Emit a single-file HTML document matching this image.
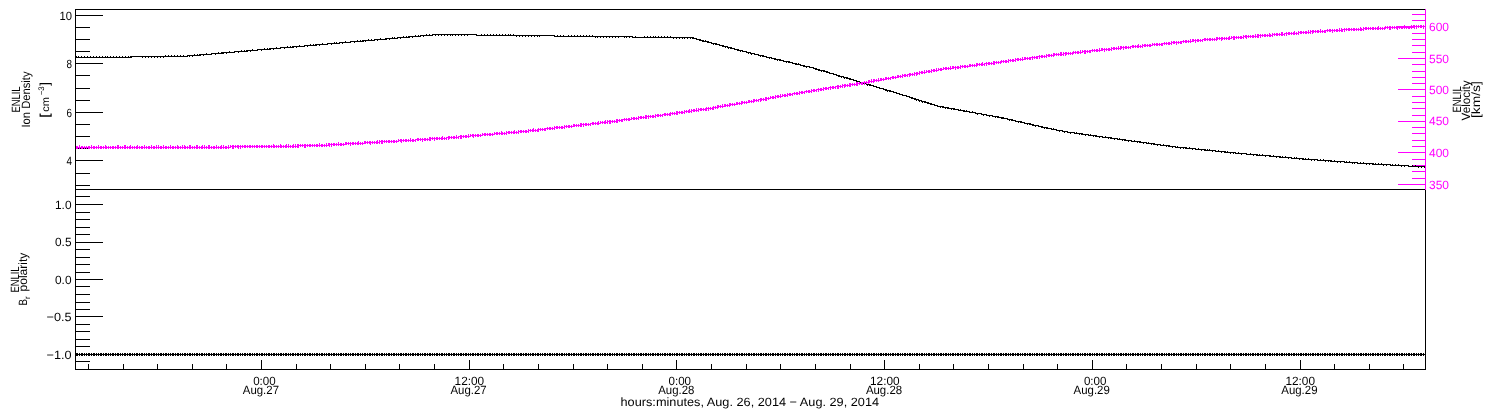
<!DOCTYPE html>
<html lang="en">
<head>
<meta charset="utf-8">
<title>ENLIL time series</title>
<style>
html,body{margin:0;padding:0;background:#fff;}
body{width:1500px;height:410px;overflow:hidden;}
svg{display:block;}
#labels{opacity:0.999;}
</style>
</head>
<body>
<svg width="1500" height="410" viewBox="0 0 1500 410" shape-rendering="crispEdges">
<rect x="0" y="0" width="1500" height="410" fill="#fff"/>
<g id="frame">
<rect x="75" y="9" width="1351" height="1" fill="#000"/>
<rect x="75" y="189" width="1351" height="1" fill="#000"/>
<rect x="75" y="369" width="1351" height="1" fill="#000"/>
<rect x="75" y="9" width="1" height="361" fill="#000"/>
<rect x="1425" y="189" width="1" height="181" fill="#000"/>
<rect x="1425" y="9" width="1" height="181" fill="#ff00ff"/>
</g>
<g id="ticks-density">
<rect x="75" y="15" width="28" height="1" fill="#000"/>
<rect x="75" y="27" width="15" height="1" fill="#000"/>
<rect x="75" y="39" width="15" height="1" fill="#000"/>
<rect x="75" y="51" width="15" height="1" fill="#000"/>
<rect x="75" y="63" width="28" height="1" fill="#000"/>
<rect x="75" y="75" width="15" height="1" fill="#000"/>
<rect x="75" y="88" width="15" height="1" fill="#000"/>
<rect x="75" y="100" width="15" height="1" fill="#000"/>
<rect x="75" y="112" width="28" height="1" fill="#000"/>
<rect x="75" y="124" width="15" height="1" fill="#000"/>
<rect x="75" y="136" width="15" height="1" fill="#000"/>
<rect x="75" y="148" width="15" height="1" fill="#000"/>
<rect x="75" y="160" width="28" height="1" fill="#000"/>
<rect x="75" y="173" width="15" height="1" fill="#000"/>
<rect x="75" y="185" width="15" height="1" fill="#000"/>
</g>
<g id="ticks-polarity">
<rect x="75" y="196" width="15" height="1" fill="#000"/>
<rect x="75" y="204" width="28" height="1" fill="#000"/>
<rect x="75" y="212" width="15" height="1" fill="#000"/>
<rect x="75" y="219" width="15" height="1" fill="#000"/>
<rect x="75" y="227" width="15" height="1" fill="#000"/>
<rect x="75" y="234" width="15" height="1" fill="#000"/>
<rect x="75" y="242" width="28" height="1" fill="#000"/>
<rect x="75" y="249" width="15" height="1" fill="#000"/>
<rect x="75" y="257" width="15" height="1" fill="#000"/>
<rect x="75" y="264" width="15" height="1" fill="#000"/>
<rect x="75" y="272" width="15" height="1" fill="#000"/>
<rect x="75" y="279" width="28" height="1" fill="#000"/>
<rect x="75" y="286" width="15" height="1" fill="#000"/>
<rect x="75" y="294" width="15" height="1" fill="#000"/>
<rect x="75" y="302" width="15" height="1" fill="#000"/>
<rect x="75" y="309" width="15" height="1" fill="#000"/>
<rect x="75" y="316" width="28" height="1" fill="#000"/>
<rect x="75" y="324" width="15" height="1" fill="#000"/>
<rect x="75" y="331" width="15" height="1" fill="#000"/>
<rect x="75" y="339" width="15" height="1" fill="#000"/>
<rect x="75" y="346" width="15" height="1" fill="#000"/>
<rect x="75" y="354" width="28" height="1" fill="#000"/>
<rect x="75" y="361" width="15" height="1" fill="#000"/>
</g>
<g id="ticks-velocity">
<rect x="1412" y="14" width="14" height="1" fill="#ff00ff"/>
<rect x="1412" y="20" width="14" height="1" fill="#ff00ff"/>
<rect x="1398" y="26" width="28" height="1" fill="#ff00ff"/>
<rect x="1412" y="33" width="14" height="1" fill="#ff00ff"/>
<rect x="1412" y="39" width="14" height="1" fill="#ff00ff"/>
<rect x="1412" y="45" width="14" height="1" fill="#ff00ff"/>
<rect x="1412" y="52" width="14" height="1" fill="#ff00ff"/>
<rect x="1398" y="58" width="28" height="1" fill="#ff00ff"/>
<rect x="1412" y="64" width="14" height="1" fill="#ff00ff"/>
<rect x="1412" y="71" width="14" height="1" fill="#ff00ff"/>
<rect x="1412" y="77" width="14" height="1" fill="#ff00ff"/>
<rect x="1412" y="83" width="14" height="1" fill="#ff00ff"/>
<rect x="1398" y="89" width="28" height="1" fill="#ff00ff"/>
<rect x="1412" y="96" width="14" height="1" fill="#ff00ff"/>
<rect x="1412" y="102" width="14" height="1" fill="#ff00ff"/>
<rect x="1412" y="108" width="14" height="1" fill="#ff00ff"/>
<rect x="1412" y="115" width="14" height="1" fill="#ff00ff"/>
<rect x="1398" y="121" width="28" height="1" fill="#ff00ff"/>
<rect x="1412" y="127" width="14" height="1" fill="#ff00ff"/>
<rect x="1412" y="133" width="14" height="1" fill="#ff00ff"/>
<rect x="1412" y="140" width="14" height="1" fill="#ff00ff"/>
<rect x="1412" y="146" width="14" height="1" fill="#ff00ff"/>
<rect x="1398" y="152" width="28" height="1" fill="#ff00ff"/>
<rect x="1412" y="159" width="14" height="1" fill="#ff00ff"/>
<rect x="1412" y="165" width="14" height="1" fill="#ff00ff"/>
<rect x="1412" y="171" width="14" height="1" fill="#ff00ff"/>
<rect x="1412" y="178" width="14" height="1" fill="#ff00ff"/>
<rect x="1398" y="184" width="28" height="1" fill="#ff00ff"/>
</g>
<g id="ticks-time">
<rect x="88" y="364" width="1" height="6" fill="#000"/>
<rect x="123" y="364" width="1" height="6" fill="#000"/>
<rect x="157" y="364" width="1" height="6" fill="#000"/>
<rect x="192" y="364" width="1" height="6" fill="#000"/>
<rect x="226" y="364" width="1" height="6" fill="#000"/>
<rect x="261" y="360" width="1" height="10" fill="#000"/>
<rect x="296" y="364" width="1" height="6" fill="#000"/>
<rect x="330" y="364" width="1" height="6" fill="#000"/>
<rect x="365" y="364" width="1" height="6" fill="#000"/>
<rect x="399" y="364" width="1" height="6" fill="#000"/>
<rect x="434" y="364" width="1" height="6" fill="#000"/>
<rect x="469" y="360" width="1" height="10" fill="#000"/>
<rect x="503" y="364" width="1" height="6" fill="#000"/>
<rect x="538" y="364" width="1" height="6" fill="#000"/>
<rect x="573" y="364" width="1" height="6" fill="#000"/>
<rect x="607" y="364" width="1" height="6" fill="#000"/>
<rect x="642" y="364" width="1" height="6" fill="#000"/>
<rect x="676" y="360" width="1" height="10" fill="#000"/>
<rect x="711" y="364" width="1" height="6" fill="#000"/>
<rect x="746" y="364" width="1" height="6" fill="#000"/>
<rect x="780" y="364" width="1" height="6" fill="#000"/>
<rect x="815" y="364" width="1" height="6" fill="#000"/>
<rect x="850" y="364" width="1" height="6" fill="#000"/>
<rect x="884" y="360" width="1" height="10" fill="#000"/>
<rect x="919" y="364" width="1" height="6" fill="#000"/>
<rect x="953" y="364" width="1" height="6" fill="#000"/>
<rect x="988" y="364" width="1" height="6" fill="#000"/>
<rect x="1023" y="364" width="1" height="6" fill="#000"/>
<rect x="1057" y="364" width="1" height="6" fill="#000"/>
<rect x="1092" y="360" width="1" height="10" fill="#000"/>
<rect x="1126" y="364" width="1" height="6" fill="#000"/>
<rect x="1161" y="364" width="1" height="6" fill="#000"/>
<rect x="1196" y="364" width="1" height="6" fill="#000"/>
<rect x="1230" y="364" width="1" height="6" fill="#000"/>
<rect x="1265" y="364" width="1" height="6" fill="#000"/>
<rect x="1300" y="360" width="1" height="10" fill="#000"/>
<rect x="1334" y="364" width="1" height="6" fill="#000"/>
<rect x="1369" y="364" width="1" height="6" fill="#000"/>
<rect x="1403" y="364" width="1" height="6" fill="#000"/>
</g>
<g id="density" fill="#000">
<rect x="76" y="57" width="55" height="1"/>
<rect x="130" y="56" width="58" height="1"/>
<rect x="187" y="55" width="13" height="1"/>
<rect x="199" y="54" width="13" height="1"/>
<rect x="211" y="53" width="12" height="1"/>
<rect x="222" y="52" width="13" height="1"/>
<rect x="234" y="51" width="13" height="1"/>
<rect x="246" y="50" width="12" height="1"/>
<rect x="257" y="49" width="13" height="1"/>
<rect x="269" y="48" width="12" height="1"/>
<rect x="280" y="47" width="13" height="1"/>
<rect x="292" y="46" width="13" height="1"/>
<rect x="304" y="45" width="12" height="1"/>
<rect x="315" y="44" width="13" height="1"/>
<rect x="327" y="43" width="13" height="1"/>
<rect x="339" y="42" width="12" height="1"/>
<rect x="350" y="41" width="13" height="1"/>
<rect x="362" y="40" width="13" height="1"/>
<rect x="374" y="39" width="12" height="1"/>
<rect x="385" y="38" width="13" height="1"/>
<rect x="397" y="37" width="12" height="1"/>
<rect x="408" y="36" width="13" height="1"/>
<rect x="420" y="35" width="13" height="1"/>
<rect x="432" y="34" width="45" height="1"/>
<rect x="476" y="35" width="79" height="1"/>
<rect x="554" y="36" width="79" height="1"/>
<rect x="632" y="37" width="61" height="1"/>
<rect x="692" y="38" width="5" height="1"/>
<rect x="696" y="39" width="5" height="1"/>
<rect x="700" y="40" width="4" height="1"/>
<rect x="703" y="41" width="5" height="1"/>
<rect x="707" y="42" width="5" height="1"/>
<rect x="711" y="43" width="5" height="1"/>
<rect x="715" y="44" width="5" height="1"/>
<rect x="719" y="45" width="5" height="1"/>
<rect x="723" y="46" width="5" height="1"/>
<rect x="727" y="47" width="4" height="1"/>
<rect x="730" y="48" width="5" height="1"/>
<rect x="734" y="49" width="5" height="1"/>
<rect x="738" y="50" width="5" height="1"/>
<rect x="742" y="51" width="5" height="1"/>
<rect x="746" y="52" width="5" height="1"/>
<rect x="750" y="53" width="5" height="1"/>
<rect x="754" y="54" width="5" height="1"/>
<rect x="758" y="55" width="5" height="1"/>
<rect x="762" y="56" width="5" height="1"/>
<rect x="766" y="57" width="6" height="1"/>
<rect x="771" y="58" width="5" height="1"/>
<rect x="775" y="59" width="5" height="1"/>
<rect x="779" y="60" width="5" height="1"/>
<rect x="783" y="61" width="6" height="1"/>
<rect x="788" y="62" width="5" height="1"/>
<rect x="792" y="63" width="5" height="1"/>
<rect x="796" y="64" width="5" height="1"/>
<rect x="800" y="65" width="5" height="1"/>
<rect x="804" y="66" width="6" height="1"/>
<rect x="809" y="67" width="5" height="1"/>
<rect x="813" y="68" width="4" height="1"/>
<rect x="816" y="69" width="4" height="1"/>
<rect x="819" y="70" width="5" height="1"/>
<rect x="823" y="71" width="4" height="1"/>
<rect x="826" y="72" width="4" height="1"/>
<rect x="829" y="73" width="5" height="1"/>
<rect x="833" y="74" width="4" height="1"/>
<rect x="836" y="75" width="4" height="1"/>
<rect x="839" y="76" width="5" height="1"/>
<rect x="843" y="77" width="4" height="1"/>
<rect x="846" y="78" width="4" height="1"/>
<rect x="849" y="79" width="5" height="1"/>
<rect x="853" y="80" width="4" height="1"/>
<rect x="856" y="81" width="4" height="1"/>
<rect x="859" y="82" width="4" height="1"/>
<rect x="862" y="83" width="5" height="1"/>
<rect x="866" y="84" width="4" height="1"/>
<rect x="869" y="85" width="5" height="1"/>
<rect x="873" y="86" width="4" height="1"/>
<rect x="876" y="87" width="4" height="1"/>
<rect x="879" y="88" width="5" height="1"/>
<rect x="883" y="89" width="4" height="1"/>
<rect x="886" y="90" width="4" height="1"/>
<rect x="889" y="91" width="5" height="1"/>
<rect x="893" y="92" width="4" height="1"/>
<rect x="896" y="93" width="4" height="1"/>
<rect x="899" y="94" width="4" height="1"/>
<rect x="902" y="95" width="5" height="1"/>
<rect x="906" y="96" width="4" height="1"/>
<rect x="909" y="97" width="4" height="1"/>
<rect x="912" y="98" width="4" height="1"/>
<rect x="915" y="99" width="4" height="1"/>
<rect x="918" y="100" width="4" height="1"/>
<rect x="921" y="101" width="4" height="1"/>
<rect x="924" y="102" width="4" height="1"/>
<rect x="927" y="103" width="4" height="1"/>
<rect x="930" y="104" width="5" height="1"/>
<rect x="934" y="105" width="4" height="1"/>
<rect x="937" y="106" width="6" height="1"/>
<rect x="942" y="107" width="6" height="1"/>
<rect x="947" y="108" width="7" height="1"/>
<rect x="953" y="109" width="6" height="1"/>
<rect x="958" y="110" width="7" height="1"/>
<rect x="964" y="111" width="6" height="1"/>
<rect x="969" y="112" width="7" height="1"/>
<rect x="975" y="113" width="7" height="1"/>
<rect x="981" y="114" width="6" height="1"/>
<rect x="986" y="115" width="7" height="1"/>
<rect x="992" y="116" width="6" height="1"/>
<rect x="997" y="117" width="6" height="1"/>
<rect x="1002" y="118" width="6" height="1"/>
<rect x="1007" y="119" width="5" height="1"/>
<rect x="1011" y="120" width="5" height="1"/>
<rect x="1015" y="121" width="6" height="1"/>
<rect x="1020" y="122" width="5" height="1"/>
<rect x="1024" y="123" width="6" height="1"/>
<rect x="1029" y="124" width="5" height="1"/>
<rect x="1033" y="125" width="6" height="1"/>
<rect x="1038" y="126" width="5" height="1"/>
<rect x="1042" y="127" width="5" height="1"/>
<rect x="1046" y="128" width="6" height="1"/>
<rect x="1051" y="129" width="6" height="1"/>
<rect x="1056" y="130" width="7" height="1"/>
<rect x="1062" y="131" width="6" height="1"/>
<rect x="1067" y="132" width="8" height="1"/>
<rect x="1074" y="133" width="8" height="1"/>
<rect x="1081" y="134" width="8" height="1"/>
<rect x="1088" y="135" width="8" height="1"/>
<rect x="1095" y="136" width="8" height="1"/>
<rect x="1102" y="137" width="9" height="1"/>
<rect x="1110" y="138" width="8" height="1"/>
<rect x="1117" y="139" width="8" height="1"/>
<rect x="1124" y="140" width="8" height="1"/>
<rect x="1131" y="141" width="9" height="1"/>
<rect x="1139" y="142" width="8" height="1"/>
<rect x="1146" y="143" width="8" height="1"/>
<rect x="1153" y="144" width="8" height="1"/>
<rect x="1160" y="145" width="9" height="1"/>
<rect x="1168" y="146" width="8" height="1"/>
<rect x="1175" y="147" width="11" height="1"/>
<rect x="1185" y="148" width="11" height="1"/>
<rect x="1195" y="149" width="11" height="1"/>
<rect x="1205" y="150" width="11" height="1"/>
<rect x="1215" y="151" width="11" height="1"/>
<rect x="1225" y="152" width="11" height="1"/>
<rect x="1235" y="153" width="12" height="1"/>
<rect x="1246" y="154" width="12" height="1"/>
<rect x="1257" y="155" width="13" height="1"/>
<rect x="1269" y="156" width="12" height="1"/>
<rect x="1280" y="157" width="12" height="1"/>
<rect x="1291" y="158" width="13" height="1"/>
<rect x="1303" y="159" width="15" height="1"/>
<rect x="1317" y="160" width="14" height="1"/>
<rect x="1330" y="161" width="15" height="1"/>
<rect x="1344" y="162" width="14" height="1"/>
<rect x="1357" y="163" width="17" height="1"/>
<rect x="1373" y="164" width="18" height="1"/>
<rect x="1390" y="165" width="19" height="1"/>
<rect x="1408" y="166" width="17" height="1"/>
<path d="M76 56h1v1h-1zM78 56h1v1h-1zM81 56h1v1h-1zM84 56h1v1h-1zM87 56h1v1h-1zM90 56h1v1h-1zM93 56h1v1h-1zM96 56h1v1h-1zM99 56h1v1h-1zM102 56h1v1h-1zM105 56h1v1h-1zM107 56h1v1h-1zM110 56h1v1h-1zM113 56h1v1h-1zM116 56h1v1h-1zM119 56h1v1h-1zM122 56h1v1h-1zM125 56h1v1h-1zM128 56h1v1h-1zM131 57h1v1h-1zM142 57h1v1h-1zM145 57h1v1h-1zM148 57h1v1h-1zM151 57h1v1h-1zM154 57h1v1h-1zM157 57h1v1h-1zM160 57h1v1h-1zM163 57h1v1h-1zM165 55h1v1h-1zM168 55h1v1h-1zM171 55h1v1h-1zM174 55h1v1h-1zM177 55h1v1h-1zM180 55h1v1h-1zM183 55h1v1h-1zM189 56h1v1h-1zM192 56h1v1h-1zM194 54h1v1h-1zM197 54h1v1h-1zM200 55h1v1h-1zM203 55h1v1h-1zM206 53h1v1h-1zM215 54h1v1h-1zM218 52h1v1h-1zM221 52h1v1h-1zM223 53h1v1h-1zM226 53h1v1h-1zM229 51h1v1h-1zM238 52h1v1h-1zM241 50h1v1h-1zM244 50h1v1h-1zM247 51h1v1h-1zM250 51h1v1h-1zM252 49h1v1h-1zM261 50h1v1h-1zM264 48h1v1h-1zM267 48h1v1h-1zM270 49h1v1h-1zM273 49h1v1h-1zM276 47h1v1h-1zM284 48h1v1h-1zM287 46h1v1h-1zM290 46h1v1h-1zM293 47h1v1h-1zM296 47h1v1h-1zM299 45h1v1h-1zM307 46h1v1h-1zM310 44h1v1h-1zM313 44h1v1h-1zM316 45h1v1h-1zM319 45h1v1h-1zM322 43h1v1h-1zM331 44h1v1h-1zM334 42h1v1h-1zM336 42h1v1h-1zM339 43h1v1h-1zM342 43h1v1h-1zM345 41h1v1h-1zM354 42h1v1h-1zM357 40h1v1h-1zM360 40h1v1h-1zM363 41h1v1h-1zM365 41h1v1h-1zM368 39h1v1h-1zM371 39h1v1h-1zM377 40h1v1h-1zM380 38h1v1h-1zM386 39h1v1h-1zM389 39h1v1h-1zM392 37h1v1h-1zM394 37h1v1h-1zM400 38h1v1h-1zM403 36h1v1h-1zM406 36h1v1h-1zM409 37h1v1h-1zM412 37h1v1h-1zM415 35h1v1h-1zM418 35h1v1h-1zM423 36h1v1h-1zM426 34h1v1h-1zM429 34h1v1h-1zM432 35h1v1h-1zM435 35h1v1h-1zM438 35h1v1h-1zM441 35h1v1h-1zM444 35h1v1h-1zM447 35h1v1h-1zM450 35h1v1h-1zM452 35h1v1h-1zM455 35h1v1h-1zM458 35h1v1h-1zM461 35h1v1h-1zM464 35h1v1h-1zM467 35h1v1h-1zM481 34h1v1h-1zM484 34h1v1h-1zM487 34h1v1h-1zM490 34h1v1h-1zM493 34h1v1h-1zM496 34h1v1h-1zM499 34h1v1h-1zM502 34h1v1h-1zM505 34h1v1h-1zM508 34h1v1h-1zM510 34h1v1h-1zM513 34h1v1h-1zM516 36h1v1h-1zM519 36h1v1h-1zM522 36h1v1h-1zM525 36h1v1h-1zM528 36h1v1h-1zM531 36h1v1h-1zM534 36h1v1h-1zM537 36h1v1h-1zM539 36h1v1h-1zM554 36h1v1h-1zM557 35h1v1h-1zM560 35h1v1h-1zM563 35h1v1h-1zM568 35h1v1h-1zM571 35h1v1h-1zM574 35h1v1h-1zM577 35h1v1h-1zM580 35h1v1h-1zM583 35h1v1h-1zM586 35h1v1h-1zM589 35h1v1h-1zM592 35h1v1h-1zM595 37h1v1h-1zM597 37h1v1h-1zM600 37h1v1h-1zM603 37h1v1h-1zM606 37h1v1h-1zM609 37h1v1h-1zM612 37h1v1h-1zM615 37h1v1h-1zM618 37h1v1h-1zM624 37h1v1h-1zM626 37h1v1h-1zM629 37h1v1h-1zM632 36h1v1h-1zM635 36h1v1h-1zM644 36h1v1h-1zM647 36h1v1h-1zM650 36h1v1h-1zM653 36h1v1h-1zM655 36h1v1h-1zM658 36h1v1h-1zM661 36h1v1h-1zM664 36h1v1h-1zM667 36h1v1h-1zM670 36h1v1h-1zM673 38h1v1h-1zM676 38h1v1h-1zM679 38h1v1h-1zM682 38h1v1h-1zM684 38h1v1h-1zM687 38h1v1h-1zM690 38h1v1h-1zM693 37h1v1h-1zM696 38h1v1h-1zM699 40h1v1h-1zM702 41h1v1h-1zM705 40h1v1h-1zM708 41h1v1h-1zM713 44h1v1h-1zM716 43h1v1h-1zM719 44h1v1h-1zM722 46h1v1h-1zM725 47h1v1h-1zM728 48h1v1h-1zM731 47h1v1h-1zM737 50h1v1h-1zM740 51h1v1h-1zM742 50h1v1h-1zM745 51h1v1h-1zM748 53h1v1h-1zM751 54h1v1h-1zM754 53h1v1h-1zM760 56h1v1h-1zM763 55h1v1h-1zM769 58h1v1h-1zM771 57h1v1h-1zM774 59h1v1h-1zM777 60h1v1h-1zM780 59h1v1h-1zM786 62h1v1h-1zM789 61h1v1h-1zM792 62h1v1h-1zM795 64h1v1h-1zM798 63h1v1h-1zM800 64h1v1h-1zM803 66h1v1h-1zM806 67h1v1h-1zM809 66h1v1h-1zM815 69h1v1h-1zM818 70h1v1h-1zM821 71h1v1h-1zM824 70h1v1h-1zM827 71h1v1h-1zM829 72h1v1h-1zM838 76h1v1h-1zM841 77h1v1h-1zM844 78h1v1h-1zM847 77h1v1h-1zM850 78h1v1h-1zM853 79h1v1h-1zM861 83h1v1h-1zM864 84h1v1h-1zM867 85h1v1h-1zM870 84h1v1h-1zM873 85h1v1h-1zM876 86h1v1h-1zM885 90h1v1h-1zM887 91h1v1h-1zM890 90h1v1h-1zM893 91h1v1h-1zM896 92h1v1h-1zM899 93h1v1h-1zM911 98h1v1h-1zM914 99h1v1h-1zM916 100h1v1h-1zM919 101h1v1h-1zM922 102h1v1h-1zM925 101h1v1h-1zM928 102h1v1h-1zM931 103h1v1h-1zM934 104h1v1h-1zM937 105h1v1h-1zM940 107h1v1h-1zM943 106h1v1h-1zM945 108h1v1h-1zM948 107h1v1h-1zM951 109h1v1h-1zM954 108h1v1h-1zM960 109h1v1h-1zM963 111h1v1h-1zM966 110h1v1h-1zM969 112h1v1h-1zM972 111h1v1h-1zM977 114h1v1h-1zM983 115h1v1h-1zM986 114h1v1h-1zM989 116h1v1h-1zM992 115h1v1h-1zM995 117h1v1h-1zM998 116h1v1h-1zM1001 118h1v1h-1zM1003 117h1v1h-1zM1009 120h1v1h-1zM1012 119h1v1h-1zM1015 120h1v1h-1zM1018 122h1v1h-1zM1021 121h1v1h-1zM1027 124h1v1h-1zM1030 123h1v1h-1zM1032 125h1v1h-1zM1035 126h1v1h-1zM1038 125h1v1h-1zM1041 127h1v1h-1zM1044 128h1v1h-1zM1047 127h1v1h-1zM1053 128h1v1h-1zM1056 130h1v1h-1zM1059 131h1v1h-1zM1061 130h1v1h-1zM1064 132h1v1h-1zM1067 131h1v1h-1zM1070 133h1v1h-1zM1076 132h1v1h-1zM1079 134h1v1h-1zM1082 133h1v1h-1zM1085 135h1v1h-1zM1088 135h1v1h-1zM1090 134h1v1h-1zM1093 136h1v1h-1zM1096 135h1v1h-1zM1099 137h1v1h-1zM1105 136h1v1h-1zM1108 138h1v1h-1zM1111 137h1v1h-1zM1114 139h1v1h-1zM1119 138h1v1h-1zM1122 140h1v1h-1zM1125 139h1v1h-1zM1128 141h1v1h-1zM1131 140h1v1h-1zM1134 140h1v1h-1zM1137 142h1v1h-1zM1140 141h1v1h-1zM1143 143h1v1h-1zM1148 142h1v1h-1zM1151 144h1v1h-1zM1154 143h1v1h-1zM1157 145h1v1h-1zM1160 144h1v1h-1zM1163 144h1v1h-1zM1166 146h1v1h-1zM1169 145h1v1h-1zM1172 147h1v1h-1zM1177 146h1v1h-1zM1180 148h1v1h-1zM1183 148h1v1h-1zM1186 147h1v1h-1zM1189 147h1v1h-1zM1192 149h1v1h-1zM1198 148h1v1h-1zM1201 150h1v1h-1zM1204 150h1v1h-1zM1207 149h1v1h-1zM1209 149h1v1h-1zM1212 151h1v1h-1zM1218 150h1v1h-1zM1221 152h1v1h-1zM1224 152h1v1h-1zM1227 151h1v1h-1zM1230 153h1v1h-1zM1233 153h1v1h-1zM1238 152h1v1h-1zM1241 154h1v1h-1zM1250 153h1v1h-1zM1253 155h1v1h-1zM1256 155h1v1h-1zM1259 154h1v1h-1zM1262 154h1v1h-1zM1265 156h1v1h-1zM1270 155h1v1h-1zM1273 155h1v1h-1zM1276 157h1v1h-1zM1279 157h1v1h-1zM1282 156h1v1h-1zM1285 156h1v1h-1zM1288 158h1v1h-1zM1294 157h1v1h-1zM1296 157h1v1h-1zM1299 159h1v1h-1zM1302 159h1v1h-1zM1305 158h1v1h-1zM1308 158h1v1h-1zM1311 160h1v1h-1zM1314 160h1v1h-1zM1320 159h1v1h-1zM1323 159h1v1h-1zM1325 161h1v1h-1zM1328 161h1v1h-1zM1331 160h1v1h-1zM1334 160h1v1h-1zM1337 162h1v1h-1zM1340 162h1v1h-1zM1346 161h1v1h-1zM1349 161h1v1h-1zM1352 163h1v1h-1zM1354 163h1v1h-1zM1360 162h1v1h-1zM1363 162h1v1h-1zM1366 164h1v1h-1zM1369 164h1v1h-1zM1372 164h1v1h-1zM1375 163h1v1h-1zM1378 163h1v1h-1zM1381 163h1v1h-1zM1383 165h1v1h-1zM1386 165h1v1h-1zM1392 164h1v1h-1zM1395 164h1v1h-1zM1398 164h1v1h-1zM1401 166h1v1h-1zM1404 166h1v1h-1zM1412 165h1v1h-1zM1415 165h1v1h-1zM1418 167h1v1h-1zM1421 167h1v1h-1zM1424 167h1v1h-1z"/>
</g>
<g id="velocity" fill="#ff00ff">
<rect x="76" y="147" width="154" height="1"/>
<rect x="230" y="146" width="67" height="1"/>
<rect x="297" y="145" width="31" height="1"/>
<rect x="328" y="144" width="17" height="1"/>
<rect x="345" y="143" width="19" height="1"/>
<rect x="364" y="142" width="16" height="1"/>
<rect x="380" y="141" width="18" height="1"/>
<rect x="398" y="140" width="18" height="1"/>
<rect x="416" y="139" width="15" height="1"/>
<rect x="431" y="138" width="16" height="1"/>
<rect x="447" y="137" width="12" height="1"/>
<rect x="459" y="136" width="11" height="1"/>
<rect x="470" y="135" width="12" height="1"/>
<rect x="482" y="134" width="12" height="1"/>
<rect x="494" y="133" width="12" height="1"/>
<rect x="506" y="132" width="12" height="1"/>
<rect x="518" y="131" width="11" height="1"/>
<rect x="529" y="130" width="9" height="1"/>
<rect x="538" y="129" width="8" height="1"/>
<rect x="546" y="128" width="9" height="1"/>
<rect x="555" y="127" width="9" height="1"/>
<rect x="564" y="126" width="9" height="1"/>
<rect x="573" y="125" width="9" height="1"/>
<rect x="582" y="124" width="9" height="1"/>
<rect x="591" y="123" width="9" height="1"/>
<rect x="600" y="122" width="8" height="1"/>
<rect x="608" y="121" width="8" height="1"/>
<rect x="616" y="120" width="7" height="1"/>
<rect x="623" y="119" width="8" height="1"/>
<rect x="631" y="118" width="8" height="1"/>
<rect x="639" y="117" width="8" height="1"/>
<rect x="647" y="116" width="8" height="1"/>
<rect x="655" y="115" width="8" height="1"/>
<rect x="663" y="114" width="8" height="1"/>
<rect x="671" y="113" width="7" height="1"/>
<rect x="678" y="112" width="7" height="1"/>
<rect x="685" y="111" width="7" height="1"/>
<rect x="692" y="110" width="7" height="1"/>
<rect x="699" y="109" width="7" height="1"/>
<rect x="706" y="108" width="7" height="1"/>
<rect x="713" y="107" width="5" height="1"/>
<rect x="718" y="106" width="6" height="1"/>
<rect x="724" y="105" width="6" height="1"/>
<rect x="730" y="104" width="6" height="1"/>
<rect x="736" y="103" width="6" height="1"/>
<rect x="742" y="102" width="6" height="1"/>
<rect x="748" y="101" width="5" height="1"/>
<rect x="753" y="100" width="6" height="1"/>
<rect x="759" y="99" width="6" height="1"/>
<rect x="765" y="98" width="5" height="1"/>
<rect x="770" y="97" width="6" height="1"/>
<rect x="776" y="96" width="6" height="1"/>
<rect x="782" y="95" width="6" height="1"/>
<rect x="788" y="94" width="5" height="1"/>
<rect x="793" y="93" width="6" height="1"/>
<rect x="799" y="92" width="6" height="1"/>
<rect x="805" y="91" width="6" height="1"/>
<rect x="811" y="90" width="6" height="1"/>
<rect x="817" y="89" width="6" height="1"/>
<rect x="823" y="88" width="6" height="1"/>
<rect x="829" y="87" width="7" height="1"/>
<rect x="836" y="86" width="6" height="1"/>
<rect x="842" y="85" width="7" height="1"/>
<rect x="849" y="84" width="7" height="1"/>
<rect x="856" y="83" width="7" height="1"/>
<rect x="863" y="82" width="5" height="1"/>
<rect x="868" y="81" width="6" height="1"/>
<rect x="874" y="80" width="6" height="1"/>
<rect x="880" y="79" width="5" height="1"/>
<rect x="885" y="78" width="6" height="1"/>
<rect x="891" y="77" width="6" height="1"/>
<rect x="897" y="76" width="5" height="1"/>
<rect x="902" y="75" width="6" height="1"/>
<rect x="908" y="74" width="6" height="1"/>
<rect x="914" y="73" width="6" height="1"/>
<rect x="920" y="72" width="6" height="1"/>
<rect x="926" y="71" width="6" height="1"/>
<rect x="932" y="70" width="6" height="1"/>
<rect x="938" y="69" width="5" height="1"/>
<rect x="943" y="68" width="9" height="1"/>
<rect x="952" y="67" width="8" height="1"/>
<rect x="960" y="66" width="9" height="1"/>
<rect x="969" y="65" width="8" height="1"/>
<rect x="977" y="64" width="8" height="1"/>
<rect x="985" y="63" width="8" height="1"/>
<rect x="993" y="62" width="8" height="1"/>
<rect x="1001" y="61" width="8" height="1"/>
<rect x="1009" y="60" width="7" height="1"/>
<rect x="1016" y="59" width="8" height="1"/>
<rect x="1024" y="58" width="7" height="1"/>
<rect x="1031" y="57" width="7" height="1"/>
<rect x="1038" y="56" width="8" height="1"/>
<rect x="1046" y="55" width="8" height="1"/>
<rect x="1054" y="54" width="9" height="1"/>
<rect x="1063" y="53" width="10" height="1"/>
<rect x="1073" y="52" width="9" height="1"/>
<rect x="1082" y="51" width="9" height="1"/>
<rect x="1091" y="50" width="10" height="1"/>
<rect x="1101" y="49" width="10" height="1"/>
<rect x="1111" y="48" width="10" height="1"/>
<rect x="1121" y="47" width="10" height="1"/>
<rect x="1131" y="46" width="11" height="1"/>
<rect x="1142" y="45" width="10" height="1"/>
<rect x="1152" y="44" width="11" height="1"/>
<rect x="1163" y="43" width="9" height="1"/>
<rect x="1172" y="42" width="10" height="1"/>
<rect x="1182" y="41" width="10" height="1"/>
<rect x="1192" y="40" width="11" height="1"/>
<rect x="1203" y="39" width="14" height="1"/>
<rect x="1217" y="38" width="14" height="1"/>
<rect x="1231" y="37" width="13" height="1"/>
<rect x="1244" y="36" width="14" height="1"/>
<rect x="1258" y="35" width="14" height="1"/>
<rect x="1272" y="34" width="13" height="1"/>
<rect x="1285" y="33" width="13" height="1"/>
<rect x="1298" y="32" width="12" height="1"/>
<rect x="1310" y="31" width="16" height="1"/>
<rect x="1326" y="30" width="17" height="1"/>
<rect x="1343" y="29" width="20" height="1"/>
<rect x="1363" y="28" width="22" height="1"/>
<rect x="1385" y="27" width="28" height="1"/>
<rect x="1413" y="26" width="12" height="1"/>
<path d="M76 146h1v3h-1zM77 146h1v3h-1zM79 145h1v4h-1zM81 146h1v3h-1zM82 146h1v3h-1zM84 146h1v3h-1zM86 146h1v3h-1zM88 146h1v3h-1zM89 146h1v3h-1zM91 145h1v4h-1zM93 146h1v3h-1zM94 146h1v3h-1zM96 146h1v3h-1zM98 145h1v4h-1zM100 146h1v3h-1zM101 146h1v3h-1zM103 146h1v3h-1zM105 145h1v4h-1zM106 146h1v3h-1zM108 146h1v3h-1zM110 146h1v3h-1zM112 146h1v3h-1zM113 146h1v3h-1zM115 146h1v3h-1zM117 145h1v4h-1zM118 145h1v4h-1zM120 146h1v3h-1zM122 146h1v3h-1zM124 145h1v4h-1zM125 145h1v4h-1zM127 146h1v3h-1zM129 146h1v3h-1zM130 145h1v4h-1zM132 146h1v3h-1zM134 146h1v3h-1zM136 146h1v3h-1zM137 145h1v4h-1zM139 146h1v3h-1zM141 146h1v3h-1zM142 146h1v3h-1zM144 145h1v4h-1zM146 146h1v3h-1zM148 146h1v3h-1zM149 146h1v3h-1zM151 145h1v4h-1zM153 146h1v3h-1zM154 146h1v3h-1zM156 145h1v4h-1zM158 145h1v4h-1zM160 146h1v3h-1zM161 146h1v3h-1zM163 145h1v4h-1zM165 146h1v3h-1zM166 146h1v3h-1zM168 146h1v3h-1zM170 145h1v4h-1zM172 146h1v3h-1zM173 146h1v3h-1zM175 146h1v3h-1zM177 145h1v4h-1zM178 146h1v3h-1zM180 146h1v3h-1zM182 145h1v4h-1zM184 145h1v4h-1zM185 146h1v3h-1zM187 146h1v3h-1zM189 145h1v4h-1zM190 145h1v4h-1zM192 146h1v3h-1zM194 146h1v3h-1zM196 145h1v4h-1zM197 145h1v4h-1zM199 146h1v3h-1zM201 146h1v3h-1zM202 145h1v4h-1zM204 145h1v4h-1zM206 146h1v3h-1zM208 145h1v4h-1zM209 145h1v4h-1zM211 146h1v3h-1zM213 146h1v3h-1zM214 146h1v3h-1zM216 145h1v4h-1zM218 146h1v3h-1zM220 146h1v3h-1zM221 145h1v4h-1zM223 145h1v4h-1zM225 146h1v3h-1zM226 146h1v3h-1zM228 145h1v4h-1zM230 145h1v3h-1zM232 145h1v4h-1zM233 145h1v4h-1zM235 145h1v3h-1zM237 145h1v3h-1zM238 145h1v4h-1zM240 145h1v4h-1zM242 145h1v3h-1zM244 145h1v3h-1zM245 145h1v3h-1zM247 145h1v3h-1zM249 145h1v3h-1zM250 145h1v3h-1zM252 145h1v3h-1zM254 145h1v3h-1zM256 145h1v3h-1zM257 145h1v3h-1zM259 145h1v3h-1zM261 145h1v3h-1zM262 145h1v3h-1zM264 145h1v3h-1zM266 145h1v3h-1zM268 145h1v3h-1zM269 145h1v3h-1zM271 145h1v3h-1zM273 144h1v4h-1zM274 145h1v3h-1zM276 145h1v3h-1zM278 145h1v3h-1zM280 144h1v4h-1zM281 145h1v3h-1zM283 145h1v3h-1zM285 145h1v3h-1zM286 144h1v4h-1zM288 144h1v4h-1zM290 145h1v3h-1zM292 145h1v3h-1zM293 144h1v4h-1zM295 144h1v4h-1zM297 144h1v4h-1zM298 144h1v4h-1zM300 144h1v3h-1zM302 144h1v3h-1zM304 144h1v4h-1zM305 144h1v4h-1zM307 144h1v3h-1zM309 144h1v3h-1zM310 144h1v3h-1zM312 144h1v3h-1zM314 144h1v3h-1zM316 144h1v3h-1zM317 144h1v3h-1zM319 143h1v4h-1zM321 144h1v3h-1zM322 144h1v3h-1zM324 144h1v3h-1zM326 143h1v4h-1zM328 143h1v3h-1zM329 143h1v4h-1zM331 143h1v4h-1zM333 143h1v3h-1zM334 143h1v3h-1zM336 143h1v3h-1zM338 142h1v4h-1zM340 143h1v3h-1zM341 143h1v3h-1zM343 143h1v3h-1zM345 142h1v3h-1zM346 142h1v3h-1zM348 142h1v3h-1zM350 142h1v4h-1zM352 142h1v3h-1zM353 142h1v3h-1zM355 142h1v3h-1zM357 142h1v3h-1zM358 141h1v4h-1zM360 142h1v3h-1zM362 142h1v3h-1zM364 141h1v3h-1zM365 141h1v3h-1zM367 141h1v3h-1zM369 141h1v3h-1zM370 141h1v4h-1zM372 141h1v3h-1zM374 141h1v3h-1zM376 141h1v3h-1zM377 140h1v4h-1zM379 140h1v4h-1zM381 140h1v4h-1zM382 140h1v4h-1zM384 140h1v3h-1zM386 140h1v3h-1zM388 140h1v3h-1zM389 140h1v3h-1zM391 140h1v3h-1zM393 140h1v3h-1zM394 140h1v3h-1zM396 140h1v3h-1zM398 139h1v3h-1zM400 139h1v3h-1zM401 139h1v4h-1zM403 139h1v3h-1zM405 139h1v3h-1zM406 139h1v3h-1zM408 139h1v3h-1zM410 138h1v4h-1zM412 139h1v3h-1zM413 139h1v3h-1zM415 139h1v3h-1zM417 138h1v3h-1zM418 138h1v3h-1zM420 138h1v3h-1zM422 138h1v4h-1zM424 138h1v3h-1zM425 138h1v3h-1zM427 138h1v3h-1zM429 137h1v4h-1zM430 137h1v4h-1zM432 137h1v3h-1zM434 137h1v4h-1zM436 137h1v3h-1zM437 137h1v3h-1zM439 137h1v3h-1zM441 137h1v3h-1zM442 136h1v4h-1zM444 137h1v3h-1zM446 137h1v3h-1zM448 136h1v4h-1zM449 136h1v3h-1zM451 136h1v3h-1zM453 136h1v3h-1zM454 136h1v3h-1zM456 135h1v4h-1zM458 136h1v3h-1zM460 135h1v4h-1zM461 135h1v4h-1zM463 135h1v3h-1zM465 135h1v3h-1zM466 135h1v3h-1zM468 134h1v4h-1zM470 134h1v3h-1zM472 134h1v3h-1zM473 134h1v4h-1zM475 134h1v3h-1zM477 134h1v3h-1zM478 134h1v3h-1zM480 134h1v3h-1zM482 133h1v3h-1zM484 133h1v3h-1zM485 133h1v3h-1zM487 133h1v3h-1zM489 133h1v3h-1zM490 133h1v3h-1zM492 133h1v3h-1zM494 132h1v3h-1zM496 132h1v3h-1zM497 132h1v3h-1zM499 132h1v3h-1zM501 131h1v4h-1zM502 132h1v3h-1zM504 132h1v3h-1zM506 131h1v4h-1zM508 131h1v3h-1zM509 131h1v3h-1zM511 131h1v3h-1zM513 131h1v3h-1zM514 130h1v4h-1zM516 131h1v3h-1zM518 130h1v4h-1zM520 130h1v3h-1zM521 130h1v3h-1zM523 130h1v3h-1zM525 130h1v3h-1zM526 130h1v3h-1zM528 129h1v4h-1zM530 129h1v3h-1zM532 129h1v3h-1zM533 128h1v4h-1zM535 129h1v3h-1zM537 129h1v3h-1zM538 128h1v4h-1zM540 128h1v3h-1zM542 128h1v3h-1zM544 128h1v3h-1zM545 128h1v3h-1zM547 127h1v3h-1zM549 127h1v3h-1zM550 127h1v3h-1zM552 127h1v3h-1zM554 126h1v4h-1zM556 126h1v3h-1zM557 126h1v3h-1zM559 126h1v3h-1zM561 126h1v3h-1zM562 126h1v3h-1zM564 125h1v4h-1zM566 125h1v3h-1zM568 125h1v3h-1zM569 125h1v3h-1zM571 125h1v3h-1zM573 124h1v3h-1zM574 124h1v3h-1zM576 124h1v3h-1zM578 124h1v3h-1zM580 123h1v4h-1zM581 123h1v4h-1zM583 123h1v4h-1zM585 123h1v3h-1zM586 123h1v3h-1zM588 123h1v3h-1zM590 123h1v3h-1zM592 122h1v3h-1zM593 122h1v3h-1zM595 122h1v3h-1zM597 122h1v3h-1zM598 121h1v4h-1zM600 121h1v3h-1zM602 121h1v3h-1zM604 121h1v3h-1zM605 120h1v4h-1zM607 120h1v4h-1zM609 120h1v4h-1zM610 120h1v4h-1zM612 120h1v3h-1zM614 120h1v3h-1zM616 119h1v4h-1zM617 119h1v4h-1zM619 119h1v3h-1zM621 119h1v3h-1zM622 119h1v3h-1zM624 118h1v3h-1zM626 118h1v3h-1zM628 118h1v3h-1zM629 118h1v3h-1zM631 117h1v3h-1zM633 117h1v3h-1zM634 117h1v3h-1zM636 117h1v3h-1zM638 116h1v4h-1zM640 116h1v3h-1zM641 116h1v3h-1zM643 116h1v3h-1zM645 115h1v4h-1zM646 115h1v4h-1zM648 115h1v4h-1zM650 115h1v3h-1zM652 115h1v3h-1zM653 115h1v3h-1zM655 114h1v4h-1zM657 114h1v3h-1zM658 114h1v3h-1zM660 114h1v3h-1zM662 114h1v3h-1zM664 113h1v3h-1zM665 113h1v3h-1zM667 113h1v3h-1zM669 113h1v3h-1zM670 112h1v4h-1zM672 112h1v3h-1zM674 112h1v3h-1zM676 111h1v4h-1zM677 111h1v4h-1zM679 111h1v3h-1zM681 111h1v3h-1zM682 111h1v3h-1zM684 110h1v4h-1zM686 110h1v3h-1zM688 110h1v3h-1zM689 109h1v4h-1zM691 109h1v4h-1zM693 109h1v3h-1zM694 109h1v3h-1zM696 108h1v4h-1zM698 108h1v4h-1zM700 108h1v3h-1zM701 108h1v3h-1zM703 108h1v3h-1zM705 108h1v3h-1zM706 107h1v4h-1zM708 107h1v4h-1zM710 107h1v3h-1zM712 107h1v3h-1zM713 106h1v4h-1zM715 106h1v3h-1zM717 105h1v4h-1zM718 105h1v3h-1zM720 105h1v3h-1zM722 104h1v4h-1zM724 104h1v3h-1zM725 104h1v3h-1zM727 104h1v3h-1zM729 103h1v4h-1zM730 103h1v3h-1zM732 103h1v3h-1zM734 103h1v3h-1zM736 102h1v3h-1zM737 102h1v3h-1zM739 102h1v3h-1zM741 101h1v4h-1zM742 101h1v3h-1zM744 101h1v3h-1zM746 101h1v3h-1zM748 100h1v3h-1zM749 100h1v3h-1zM751 100h1v3h-1zM753 99h1v4h-1zM754 99h1v3h-1zM756 99h1v3h-1zM758 99h1v3h-1zM760 98h1v4h-1zM761 98h1v3h-1zM763 98h1v3h-1zM765 97h1v4h-1zM766 97h1v4h-1zM768 97h1v3h-1zM770 96h1v3h-1zM772 96h1v3h-1zM773 96h1v3h-1zM775 95h1v4h-1zM777 95h1v3h-1zM778 95h1v3h-1zM780 94h1v4h-1zM782 94h1v3h-1zM784 94h1v3h-1zM785 94h1v3h-1zM787 93h1v4h-1zM789 93h1v3h-1zM790 93h1v3h-1zM792 93h1v3h-1zM794 92h1v3h-1zM796 92h1v3h-1zM797 92h1v3h-1zM799 91h1v4h-1zM801 91h1v3h-1zM802 91h1v3h-1zM804 91h1v3h-1zM806 90h1v3h-1zM808 90h1v3h-1zM809 90h1v3h-1zM811 89h1v4h-1zM813 89h1v3h-1zM814 89h1v3h-1zM816 89h1v3h-1zM818 88h1v4h-1zM820 88h1v3h-1zM821 88h1v3h-1zM823 87h1v4h-1zM825 87h1v3h-1zM826 87h1v3h-1zM828 87h1v3h-1zM830 86h1v4h-1zM832 86h1v3h-1zM833 86h1v3h-1zM835 86h1v3h-1zM837 85h1v4h-1zM838 85h1v4h-1zM840 85h1v3h-1zM842 84h1v4h-1zM844 84h1v4h-1zM845 84h1v3h-1zM847 84h1v3h-1zM849 83h1v4h-1zM850 83h1v4h-1zM852 83h1v3h-1zM854 83h1v3h-1zM856 82h1v4h-1zM857 82h1v4h-1zM859 82h1v3h-1zM861 82h1v3h-1zM862 82h1v3h-1zM864 81h1v4h-1zM866 81h1v3h-1zM868 80h1v4h-1zM869 80h1v3h-1zM871 79h1v4h-1zM873 79h1v4h-1zM874 79h1v3h-1zM876 79h1v3h-1zM878 78h1v4h-1zM880 78h1v3h-1zM881 78h1v3h-1zM883 78h1v3h-1zM885 77h1v3h-1zM886 77h1v3h-1zM888 77h1v3h-1zM890 77h1v3h-1zM892 76h1v3h-1zM893 76h1v3h-1zM895 76h1v3h-1zM897 75h1v3h-1zM898 75h1v3h-1zM900 75h1v3h-1zM902 74h1v4h-1zM904 74h1v3h-1zM905 74h1v3h-1zM907 74h1v3h-1zM909 73h1v4h-1zM910 73h1v3h-1zM912 73h1v3h-1zM914 72h1v4h-1zM916 72h1v4h-1zM917 72h1v3h-1zM919 71h1v4h-1zM921 71h1v3h-1zM922 71h1v3h-1zM924 70h1v4h-1zM926 70h1v3h-1zM928 70h1v3h-1zM929 70h1v3h-1zM931 69h1v4h-1zM933 69h1v3h-1zM934 69h1v3h-1zM936 68h1v4h-1zM938 68h1v3h-1zM940 68h1v3h-1zM941 68h1v3h-1zM943 67h1v3h-1zM945 67h1v3h-1zM946 67h1v3h-1zM948 67h1v3h-1zM950 66h1v4h-1zM952 66h1v3h-1zM953 66h1v3h-1zM955 66h1v4h-1zM957 66h1v3h-1zM958 66h1v3h-1zM960 65h1v4h-1zM962 65h1v3h-1zM964 65h1v3h-1zM965 65h1v3h-1zM967 65h1v3h-1zM969 64h1v3h-1zM970 64h1v3h-1zM972 64h1v3h-1zM974 64h1v3h-1zM976 63h1v4h-1zM977 63h1v3h-1zM979 63h1v3h-1zM981 63h1v3h-1zM982 62h1v4h-1zM984 63h1v3h-1zM986 62h1v4h-1zM988 62h1v3h-1zM989 62h1v3h-1zM991 62h1v3h-1zM993 61h1v4h-1zM994 61h1v4h-1zM996 61h1v3h-1zM998 61h1v3h-1zM1000 61h1v3h-1zM1001 60h1v3h-1zM1003 60h1v3h-1zM1005 60h1v3h-1zM1006 60h1v3h-1zM1008 59h1v4h-1zM1010 59h1v3h-1zM1012 59h1v3h-1zM1013 59h1v3h-1zM1015 58h1v4h-1zM1017 58h1v3h-1zM1018 58h1v3h-1zM1020 58h1v3h-1zM1022 57h1v4h-1zM1024 57h1v3h-1zM1025 57h1v3h-1zM1027 57h1v3h-1zM1029 57h1v3h-1zM1030 57h1v3h-1zM1032 56h1v4h-1zM1034 56h1v3h-1zM1036 56h1v3h-1zM1037 56h1v3h-1zM1039 55h1v4h-1zM1041 55h1v3h-1zM1042 55h1v3h-1zM1044 55h1v3h-1zM1046 54h1v4h-1zM1048 54h1v3h-1zM1049 54h1v3h-1zM1051 54h1v3h-1zM1053 53h1v4h-1zM1054 53h1v3h-1zM1056 53h1v3h-1zM1058 53h1v3h-1zM1060 52h1v4h-1zM1061 52h1v4h-1zM1063 52h1v4h-1zM1065 52h1v4h-1zM1066 52h1v3h-1zM1068 52h1v3h-1zM1070 52h1v3h-1zM1072 52h1v3h-1zM1073 51h1v3h-1zM1075 51h1v3h-1zM1077 51h1v3h-1zM1078 51h1v3h-1zM1080 50h1v4h-1zM1082 50h1v3h-1zM1084 50h1v4h-1zM1085 50h1v4h-1zM1087 50h1v3h-1zM1089 50h1v3h-1zM1090 50h1v3h-1zM1092 49h1v3h-1zM1094 49h1v3h-1zM1096 49h1v3h-1zM1097 49h1v3h-1zM1099 48h1v4h-1zM1101 48h1v3h-1zM1102 48h1v3h-1zM1104 48h1v4h-1zM1106 48h1v3h-1zM1108 48h1v3h-1zM1109 48h1v3h-1zM1111 47h1v4h-1zM1113 47h1v3h-1zM1114 47h1v3h-1zM1116 47h1v3h-1zM1118 46h1v4h-1zM1120 46h1v4h-1zM1121 46h1v3h-1zM1123 46h1v4h-1zM1125 46h1v3h-1zM1126 46h1v3h-1zM1128 46h1v3h-1zM1130 46h1v3h-1zM1132 45h1v3h-1zM1133 45h1v3h-1zM1135 45h1v3h-1zM1137 45h1v3h-1zM1138 44h1v4h-1zM1140 45h1v3h-1zM1142 44h1v4h-1zM1144 44h1v3h-1zM1145 44h1v3h-1zM1147 44h1v3h-1zM1149 44h1v3h-1zM1150 44h1v3h-1zM1152 43h1v3h-1zM1154 43h1v3h-1zM1156 43h1v3h-1zM1157 43h1v3h-1zM1159 43h1v3h-1zM1161 43h1v3h-1zM1162 43h1v3h-1zM1164 42h1v3h-1zM1166 42h1v3h-1zM1168 42h1v3h-1zM1169 42h1v3h-1zM1171 41h1v4h-1zM1173 41h1v3h-1zM1174 41h1v3h-1zM1176 41h1v4h-1zM1178 41h1v3h-1zM1180 41h1v3h-1zM1181 41h1v3h-1zM1183 40h1v3h-1zM1185 40h1v3h-1zM1186 40h1v3h-1zM1188 40h1v3h-1zM1190 39h1v4h-1zM1192 39h1v3h-1zM1193 39h1v3h-1zM1195 39h1v4h-1zM1197 39h1v3h-1zM1198 39h1v3h-1zM1200 39h1v3h-1zM1202 39h1v3h-1zM1204 38h1v3h-1zM1205 38h1v3h-1zM1207 38h1v3h-1zM1209 38h1v3h-1zM1210 38h1v3h-1zM1212 38h1v3h-1zM1214 38h1v3h-1zM1216 37h1v4h-1zM1217 37h1v3h-1zM1219 37h1v3h-1zM1221 37h1v4h-1zM1222 37h1v3h-1zM1224 37h1v3h-1zM1226 37h1v3h-1zM1228 37h1v3h-1zM1229 36h1v4h-1zM1231 36h1v3h-1zM1233 36h1v4h-1zM1234 36h1v4h-1zM1236 36h1v3h-1zM1238 36h1v3h-1zM1240 36h1v3h-1zM1241 36h1v3h-1zM1243 35h1v4h-1zM1245 35h1v3h-1zM1246 35h1v4h-1zM1248 35h1v3h-1zM1250 35h1v3h-1zM1252 35h1v3h-1zM1253 35h1v3h-1zM1255 34h1v4h-1zM1257 34h1v4h-1zM1258 34h1v4h-1zM1260 34h1v4h-1zM1262 34h1v3h-1zM1264 34h1v3h-1zM1265 34h1v3h-1zM1267 34h1v3h-1zM1269 33h1v4h-1zM1270 34h1v3h-1zM1272 33h1v4h-1zM1274 33h1v3h-1zM1276 33h1v3h-1zM1277 33h1v3h-1zM1279 33h1v3h-1zM1281 32h1v4h-1zM1282 32h1v4h-1zM1284 33h1v3h-1zM1286 32h1v4h-1zM1288 32h1v3h-1zM1289 32h1v3h-1zM1291 32h1v3h-1zM1293 32h1v3h-1zM1294 31h1v4h-1zM1296 32h1v3h-1zM1298 31h1v4h-1zM1300 31h1v3h-1zM1301 31h1v3h-1zM1303 31h1v3h-1zM1305 31h1v3h-1zM1306 31h1v3h-1zM1308 30h1v4h-1zM1310 30h1v4h-1zM1312 30h1v4h-1zM1313 30h1v3h-1zM1315 30h1v3h-1zM1317 30h1v3h-1zM1318 30h1v3h-1zM1320 29h1v4h-1zM1322 30h1v3h-1zM1324 30h1v3h-1zM1325 30h1v3h-1zM1327 29h1v3h-1zM1329 29h1v3h-1zM1330 29h1v3h-1zM1332 29h1v4h-1zM1334 29h1v3h-1zM1336 29h1v3h-1zM1337 29h1v3h-1zM1339 28h1v4h-1zM1341 28h1v4h-1zM1342 29h1v3h-1zM1344 28h1v4h-1zM1346 28h1v3h-1zM1348 28h1v3h-1zM1349 28h1v3h-1zM1351 28h1v3h-1zM1353 28h1v3h-1zM1354 28h1v3h-1zM1356 28h1v3h-1zM1358 28h1v3h-1zM1360 27h1v4h-1zM1361 28h1v3h-1zM1363 27h1v4h-1zM1365 27h1v3h-1zM1366 27h1v3h-1zM1368 27h1v3h-1zM1370 27h1v3h-1zM1372 27h1v3h-1zM1373 27h1v3h-1zM1375 27h1v3h-1zM1377 27h1v3h-1zM1378 26h1v4h-1zM1380 27h1v3h-1zM1382 27h1v3h-1zM1384 27h1v3h-1zM1385 26h1v3h-1zM1387 26h1v3h-1zM1389 26h1v4h-1zM1390 26h1v4h-1zM1392 26h1v3h-1zM1394 26h1v3h-1zM1396 26h1v3h-1zM1397 26h1v4h-1zM1399 26h1v3h-1zM1401 26h1v3h-1zM1402 26h1v3h-1zM1404 25h1v4h-1zM1406 26h1v3h-1zM1408 26h1v3h-1zM1409 26h1v3h-1zM1411 25h1v4h-1zM1413 25h1v3h-1zM1414 25h1v4h-1zM1416 25h1v4h-1zM1418 25h1v3h-1zM1420 25h1v3h-1zM1421 25h1v3h-1zM1423 25h1v4h-1z"/>
</g>
<g id="polarity" fill="#000">
<rect x="75" y="354" width="1351" height="1" fill="#000"/>
<path d="M76 353h1v3h-1zM77 353h1v3h-1zM79 353h1v3h-1zM81 353h1v3h-1zM82 353h1v3h-1zM84 353h1v3h-1zM86 353h1v3h-1zM88 353h1v3h-1zM89 353h1v3h-1zM91 353h1v3h-1zM93 353h1v3h-1zM94 353h1v3h-1zM96 353h1v3h-1zM98 353h1v3h-1zM100 353h1v3h-1zM101 353h1v3h-1zM103 353h1v3h-1zM105 353h1v3h-1zM106 353h1v3h-1zM108 353h1v3h-1zM110 353h1v3h-1zM112 353h1v3h-1zM113 353h1v3h-1zM115 353h1v3h-1zM117 353h1v3h-1zM118 353h1v3h-1zM120 353h1v3h-1zM122 353h1v3h-1zM124 353h1v3h-1zM125 353h1v3h-1zM127 353h1v3h-1zM129 353h1v3h-1zM130 353h1v3h-1zM132 353h1v3h-1zM134 353h1v3h-1zM136 353h1v3h-1zM137 353h1v3h-1zM139 353h1v3h-1zM141 353h1v3h-1zM142 353h1v3h-1zM144 353h1v3h-1zM146 353h1v3h-1zM148 353h1v3h-1zM149 353h1v3h-1zM151 353h1v3h-1zM153 353h1v3h-1zM154 353h1v3h-1zM156 353h1v3h-1zM158 353h1v3h-1zM160 353h1v3h-1zM161 353h1v3h-1zM163 353h1v3h-1zM165 353h1v3h-1zM166 353h1v3h-1zM168 353h1v3h-1zM170 353h1v3h-1zM172 353h1v3h-1zM173 353h1v3h-1zM175 353h1v3h-1zM177 353h1v3h-1zM178 353h1v3h-1zM180 353h1v3h-1zM182 353h1v3h-1zM184 353h1v3h-1zM185 353h1v3h-1zM187 353h1v3h-1zM189 353h1v3h-1zM190 353h1v3h-1zM192 353h1v3h-1zM194 353h1v3h-1zM196 353h1v3h-1zM197 353h1v3h-1zM199 353h1v3h-1zM201 353h1v3h-1zM202 353h1v3h-1zM204 353h1v3h-1zM206 353h1v3h-1zM208 353h1v3h-1zM209 353h1v3h-1zM211 353h1v3h-1zM213 353h1v3h-1zM214 353h1v3h-1zM216 353h1v3h-1zM218 353h1v3h-1zM220 353h1v3h-1zM221 353h1v3h-1zM223 353h1v3h-1zM225 353h1v3h-1zM226 353h1v3h-1zM228 353h1v3h-1zM230 353h1v3h-1zM232 353h1v3h-1zM233 353h1v3h-1zM235 353h1v3h-1zM237 353h1v3h-1zM238 353h1v3h-1zM240 353h1v3h-1zM242 353h1v3h-1zM244 353h1v3h-1zM245 353h1v3h-1zM247 353h1v3h-1zM249 353h1v3h-1zM250 353h1v3h-1zM252 353h1v3h-1zM254 353h1v3h-1zM256 353h1v3h-1zM257 353h1v3h-1zM259 353h1v3h-1zM261 353h1v3h-1zM262 353h1v3h-1zM264 353h1v3h-1zM266 353h1v3h-1zM268 353h1v3h-1zM269 353h1v3h-1zM271 353h1v3h-1zM273 353h1v3h-1zM274 353h1v3h-1zM276 353h1v3h-1zM278 353h1v3h-1zM280 353h1v3h-1zM281 353h1v3h-1zM283 353h1v3h-1zM285 353h1v3h-1zM286 353h1v3h-1zM288 353h1v3h-1zM290 353h1v3h-1zM292 353h1v3h-1zM293 353h1v3h-1zM295 353h1v3h-1zM297 353h1v3h-1zM298 353h1v3h-1zM300 353h1v3h-1zM302 353h1v3h-1zM304 353h1v3h-1zM305 353h1v3h-1zM307 353h1v3h-1zM309 353h1v3h-1zM310 353h1v3h-1zM312 353h1v3h-1zM314 353h1v3h-1zM316 353h1v3h-1zM317 353h1v3h-1zM319 353h1v3h-1zM321 353h1v3h-1zM322 353h1v3h-1zM324 353h1v3h-1zM326 353h1v3h-1zM328 353h1v3h-1zM329 353h1v3h-1zM331 353h1v3h-1zM333 353h1v3h-1zM334 353h1v3h-1zM336 353h1v3h-1zM338 353h1v3h-1zM340 353h1v3h-1zM341 353h1v3h-1zM343 353h1v3h-1zM345 353h1v3h-1zM346 353h1v3h-1zM348 353h1v3h-1zM350 353h1v3h-1zM352 353h1v3h-1zM353 353h1v3h-1zM355 353h1v3h-1zM357 353h1v3h-1zM358 353h1v3h-1zM360 353h1v3h-1zM362 353h1v3h-1zM364 353h1v3h-1zM365 353h1v3h-1zM367 353h1v3h-1zM369 353h1v3h-1zM370 353h1v3h-1zM372 353h1v3h-1zM374 353h1v3h-1zM376 353h1v3h-1zM377 353h1v3h-1zM379 353h1v3h-1zM381 353h1v3h-1zM382 353h1v3h-1zM384 353h1v3h-1zM386 353h1v3h-1zM388 353h1v3h-1zM389 353h1v3h-1zM391 353h1v3h-1zM393 353h1v3h-1zM394 353h1v3h-1zM396 353h1v3h-1zM398 353h1v3h-1zM400 353h1v3h-1zM401 353h1v3h-1zM403 353h1v3h-1zM405 353h1v3h-1zM406 353h1v3h-1zM408 353h1v3h-1zM410 353h1v3h-1zM412 353h1v3h-1zM413 353h1v3h-1zM415 353h1v3h-1zM417 353h1v3h-1zM418 353h1v3h-1zM420 353h1v3h-1zM422 353h1v3h-1zM424 353h1v3h-1zM425 353h1v3h-1zM427 353h1v3h-1zM429 353h1v3h-1zM430 353h1v3h-1zM432 353h1v3h-1zM434 353h1v3h-1zM436 353h1v3h-1zM437 353h1v3h-1zM439 353h1v3h-1zM441 353h1v3h-1zM442 353h1v3h-1zM444 353h1v3h-1zM446 353h1v3h-1zM448 353h1v3h-1zM449 353h1v3h-1zM451 353h1v3h-1zM453 353h1v3h-1zM454 353h1v3h-1zM456 353h1v3h-1zM458 353h1v3h-1zM460 353h1v3h-1zM461 353h1v3h-1zM463 353h1v3h-1zM465 353h1v3h-1zM466 353h1v3h-1zM468 353h1v3h-1zM470 353h1v3h-1zM472 353h1v3h-1zM473 353h1v3h-1zM475 353h1v3h-1zM477 353h1v3h-1zM478 353h1v3h-1zM480 353h1v3h-1zM482 353h1v3h-1zM484 353h1v3h-1zM485 353h1v3h-1zM487 353h1v3h-1zM489 353h1v3h-1zM490 353h1v3h-1zM492 353h1v3h-1zM494 353h1v3h-1zM496 353h1v3h-1zM497 353h1v3h-1zM499 353h1v3h-1zM501 353h1v3h-1zM502 353h1v3h-1zM504 353h1v3h-1zM506 353h1v3h-1zM508 353h1v3h-1zM509 353h1v3h-1zM511 353h1v3h-1zM513 353h1v3h-1zM514 353h1v3h-1zM516 353h1v3h-1zM518 353h1v3h-1zM520 353h1v3h-1zM521 353h1v3h-1zM523 353h1v3h-1zM525 353h1v3h-1zM526 353h1v3h-1zM528 353h1v3h-1zM530 353h1v3h-1zM532 353h1v3h-1zM533 353h1v3h-1zM535 353h1v3h-1zM537 353h1v3h-1zM538 353h1v3h-1zM540 353h1v3h-1zM542 353h1v3h-1zM544 353h1v3h-1zM545 353h1v3h-1zM547 353h1v3h-1zM549 353h1v3h-1zM550 353h1v3h-1zM552 353h1v3h-1zM554 353h1v3h-1zM556 353h1v3h-1zM557 353h1v3h-1zM559 353h1v3h-1zM561 353h1v3h-1zM562 353h1v3h-1zM564 353h1v3h-1zM566 353h1v3h-1zM568 353h1v3h-1zM569 353h1v3h-1zM571 353h1v3h-1zM573 353h1v3h-1zM574 353h1v3h-1zM576 353h1v3h-1zM578 353h1v3h-1zM580 353h1v3h-1zM581 353h1v3h-1zM583 353h1v3h-1zM585 353h1v3h-1zM586 353h1v3h-1zM588 353h1v3h-1zM590 353h1v3h-1zM592 353h1v3h-1zM593 353h1v3h-1zM595 353h1v3h-1zM597 353h1v3h-1zM598 353h1v3h-1zM600 353h1v3h-1zM602 353h1v3h-1zM604 353h1v3h-1zM605 353h1v3h-1zM607 353h1v3h-1zM609 353h1v3h-1zM610 353h1v3h-1zM612 353h1v3h-1zM614 353h1v3h-1zM616 353h1v3h-1zM617 353h1v3h-1zM619 353h1v3h-1zM621 353h1v3h-1zM622 353h1v3h-1zM624 353h1v3h-1zM626 353h1v3h-1zM628 353h1v3h-1zM629 353h1v3h-1zM631 353h1v3h-1zM633 353h1v3h-1zM634 353h1v3h-1zM636 353h1v3h-1zM638 353h1v3h-1zM640 353h1v3h-1zM641 353h1v3h-1zM643 353h1v3h-1zM645 353h1v3h-1zM646 353h1v3h-1zM648 353h1v3h-1zM650 353h1v3h-1zM652 353h1v3h-1zM653 353h1v3h-1zM655 353h1v3h-1zM657 353h1v3h-1zM658 353h1v3h-1zM660 353h1v3h-1zM662 353h1v3h-1zM664 353h1v3h-1zM665 353h1v3h-1zM667 353h1v3h-1zM669 353h1v3h-1zM670 353h1v3h-1zM672 353h1v3h-1zM674 353h1v3h-1zM676 353h1v3h-1zM677 353h1v3h-1zM679 353h1v3h-1zM681 353h1v3h-1zM682 353h1v3h-1zM684 353h1v3h-1zM686 353h1v3h-1zM688 353h1v3h-1zM689 353h1v3h-1zM691 353h1v3h-1zM693 353h1v3h-1zM694 353h1v3h-1zM696 353h1v3h-1zM698 353h1v3h-1zM700 353h1v3h-1zM701 353h1v3h-1zM703 353h1v3h-1zM705 353h1v3h-1zM706 353h1v3h-1zM708 353h1v3h-1zM710 353h1v3h-1zM712 353h1v3h-1zM713 353h1v3h-1zM715 353h1v3h-1zM717 353h1v3h-1zM718 353h1v3h-1zM720 353h1v3h-1zM722 353h1v3h-1zM724 353h1v3h-1zM725 353h1v3h-1zM727 353h1v3h-1zM729 353h1v3h-1zM730 353h1v3h-1zM732 353h1v3h-1zM734 353h1v3h-1zM736 353h1v3h-1zM737 353h1v3h-1zM739 353h1v3h-1zM741 353h1v3h-1zM742 353h1v3h-1zM744 353h1v3h-1zM746 353h1v3h-1zM748 353h1v3h-1zM749 353h1v3h-1zM751 353h1v3h-1zM753 353h1v3h-1zM754 353h1v3h-1zM756 353h1v3h-1zM758 353h1v3h-1zM760 353h1v3h-1zM761 353h1v3h-1zM763 353h1v3h-1zM765 353h1v3h-1zM766 353h1v3h-1zM768 353h1v3h-1zM770 353h1v3h-1zM772 353h1v3h-1zM773 353h1v3h-1zM775 353h1v3h-1zM777 353h1v3h-1zM778 353h1v3h-1zM780 353h1v3h-1zM782 353h1v3h-1zM784 353h1v3h-1zM785 353h1v3h-1zM787 353h1v3h-1zM789 353h1v3h-1zM790 353h1v3h-1zM792 353h1v3h-1zM794 353h1v3h-1zM796 353h1v3h-1zM797 353h1v3h-1zM799 353h1v3h-1zM801 353h1v3h-1zM802 353h1v3h-1zM804 353h1v3h-1zM806 353h1v3h-1zM808 353h1v3h-1zM809 353h1v3h-1zM811 353h1v3h-1zM813 353h1v3h-1zM814 353h1v3h-1zM816 353h1v3h-1zM818 353h1v3h-1zM820 353h1v3h-1zM821 353h1v3h-1zM823 353h1v3h-1zM825 353h1v3h-1zM826 353h1v3h-1zM828 353h1v3h-1zM830 353h1v3h-1zM832 353h1v3h-1zM833 353h1v3h-1zM835 353h1v3h-1zM837 353h1v3h-1zM838 353h1v3h-1zM840 353h1v3h-1zM842 353h1v3h-1zM844 353h1v3h-1zM845 353h1v3h-1zM847 353h1v3h-1zM849 353h1v3h-1zM850 353h1v3h-1zM852 353h1v3h-1zM854 353h1v3h-1zM856 353h1v3h-1zM857 353h1v3h-1zM859 353h1v3h-1zM861 353h1v3h-1zM862 353h1v3h-1zM864 353h1v3h-1zM866 353h1v3h-1zM868 353h1v3h-1zM869 353h1v3h-1zM871 353h1v3h-1zM873 353h1v3h-1zM874 353h1v3h-1zM876 353h1v3h-1zM878 353h1v3h-1zM880 353h1v3h-1zM881 353h1v3h-1zM883 353h1v3h-1zM885 353h1v3h-1zM886 353h1v3h-1zM888 353h1v3h-1zM890 353h1v3h-1zM892 353h1v3h-1zM893 353h1v3h-1zM895 353h1v3h-1zM897 353h1v3h-1zM898 353h1v3h-1zM900 353h1v3h-1zM902 353h1v3h-1zM904 353h1v3h-1zM905 353h1v3h-1zM907 353h1v3h-1zM909 353h1v3h-1zM910 353h1v3h-1zM912 353h1v3h-1zM914 353h1v3h-1zM916 353h1v3h-1zM917 353h1v3h-1zM919 353h1v3h-1zM921 353h1v3h-1zM922 353h1v3h-1zM924 353h1v3h-1zM926 353h1v3h-1zM928 353h1v3h-1zM929 353h1v3h-1zM931 353h1v3h-1zM933 353h1v3h-1zM934 353h1v3h-1zM936 353h1v3h-1zM938 353h1v3h-1zM940 353h1v3h-1zM941 353h1v3h-1zM943 353h1v3h-1zM945 353h1v3h-1zM946 353h1v3h-1zM948 353h1v3h-1zM950 353h1v3h-1zM952 353h1v3h-1zM953 353h1v3h-1zM955 353h1v3h-1zM957 353h1v3h-1zM958 353h1v3h-1zM960 353h1v3h-1zM962 353h1v3h-1zM964 353h1v3h-1zM965 353h1v3h-1zM967 353h1v3h-1zM969 353h1v3h-1zM970 353h1v3h-1zM972 353h1v3h-1zM974 353h1v3h-1zM976 353h1v3h-1zM977 353h1v3h-1zM979 353h1v3h-1zM981 353h1v3h-1zM982 353h1v3h-1zM984 353h1v3h-1zM986 353h1v3h-1zM988 353h1v3h-1zM989 353h1v3h-1zM991 353h1v3h-1zM993 353h1v3h-1zM994 353h1v3h-1zM996 353h1v3h-1zM998 353h1v3h-1zM1000 353h1v3h-1zM1001 353h1v3h-1zM1003 353h1v3h-1zM1005 353h1v3h-1zM1006 353h1v3h-1zM1008 353h1v3h-1zM1010 353h1v3h-1zM1012 353h1v3h-1zM1013 353h1v3h-1zM1015 353h1v3h-1zM1017 353h1v3h-1zM1018 353h1v3h-1zM1020 353h1v3h-1zM1022 353h1v3h-1zM1024 353h1v3h-1zM1025 353h1v3h-1zM1027 353h1v3h-1zM1029 353h1v3h-1zM1030 353h1v3h-1zM1032 353h1v3h-1zM1034 353h1v3h-1zM1036 353h1v3h-1zM1037 353h1v3h-1zM1039 353h1v3h-1zM1041 353h1v3h-1zM1042 353h1v3h-1zM1044 353h1v3h-1zM1046 353h1v3h-1zM1048 353h1v3h-1zM1049 353h1v3h-1zM1051 353h1v3h-1zM1053 353h1v3h-1zM1054 353h1v3h-1zM1056 353h1v3h-1zM1058 353h1v3h-1zM1060 353h1v3h-1zM1061 353h1v3h-1zM1063 353h1v3h-1zM1065 353h1v3h-1zM1066 353h1v3h-1zM1068 353h1v3h-1zM1070 353h1v3h-1zM1072 353h1v3h-1zM1073 353h1v3h-1zM1075 353h1v3h-1zM1077 353h1v3h-1zM1078 353h1v3h-1zM1080 353h1v3h-1zM1082 353h1v3h-1zM1084 353h1v3h-1zM1085 353h1v3h-1zM1087 353h1v3h-1zM1089 353h1v3h-1zM1090 353h1v3h-1zM1092 353h1v3h-1zM1094 353h1v3h-1zM1096 353h1v3h-1zM1097 353h1v3h-1zM1099 353h1v3h-1zM1101 353h1v3h-1zM1102 353h1v3h-1zM1104 353h1v3h-1zM1106 353h1v3h-1zM1108 353h1v3h-1zM1109 353h1v3h-1zM1111 353h1v3h-1zM1113 353h1v3h-1zM1114 353h1v3h-1zM1116 353h1v3h-1zM1118 353h1v3h-1zM1120 353h1v3h-1zM1121 353h1v3h-1zM1123 353h1v3h-1zM1125 353h1v3h-1zM1126 353h1v3h-1zM1128 353h1v3h-1zM1130 353h1v3h-1zM1132 353h1v3h-1zM1133 353h1v3h-1zM1135 353h1v3h-1zM1137 353h1v3h-1zM1138 353h1v3h-1zM1140 353h1v3h-1zM1142 353h1v3h-1zM1144 353h1v3h-1zM1145 353h1v3h-1zM1147 353h1v3h-1zM1149 353h1v3h-1zM1150 353h1v3h-1zM1152 353h1v3h-1zM1154 353h1v3h-1zM1156 353h1v3h-1zM1157 353h1v3h-1zM1159 353h1v3h-1zM1161 353h1v3h-1zM1162 353h1v3h-1zM1164 353h1v3h-1zM1166 353h1v3h-1zM1168 353h1v3h-1zM1169 353h1v3h-1zM1171 353h1v3h-1zM1173 353h1v3h-1zM1174 353h1v3h-1zM1176 353h1v3h-1zM1178 353h1v3h-1zM1180 353h1v3h-1zM1181 353h1v3h-1zM1183 353h1v3h-1zM1185 353h1v3h-1zM1186 353h1v3h-1zM1188 353h1v3h-1zM1190 353h1v3h-1zM1192 353h1v3h-1zM1193 353h1v3h-1zM1195 353h1v3h-1zM1197 353h1v3h-1zM1198 353h1v3h-1zM1200 353h1v3h-1zM1202 353h1v3h-1zM1204 353h1v3h-1zM1205 353h1v3h-1zM1207 353h1v3h-1zM1209 353h1v3h-1zM1210 353h1v3h-1zM1212 353h1v3h-1zM1214 353h1v3h-1zM1216 353h1v3h-1zM1217 353h1v3h-1zM1219 353h1v3h-1zM1221 353h1v3h-1zM1222 353h1v3h-1zM1224 353h1v3h-1zM1226 353h1v3h-1zM1228 353h1v3h-1zM1229 353h1v3h-1zM1231 353h1v3h-1zM1233 353h1v3h-1zM1234 353h1v3h-1zM1236 353h1v3h-1zM1238 353h1v3h-1zM1240 353h1v3h-1zM1241 353h1v3h-1zM1243 353h1v3h-1zM1245 353h1v3h-1zM1246 353h1v3h-1zM1248 353h1v3h-1zM1250 353h1v3h-1zM1252 353h1v3h-1zM1253 353h1v3h-1zM1255 353h1v3h-1zM1257 353h1v3h-1zM1258 353h1v3h-1zM1260 353h1v3h-1zM1262 353h1v3h-1zM1264 353h1v3h-1zM1265 353h1v3h-1zM1267 353h1v3h-1zM1269 353h1v3h-1zM1270 353h1v3h-1zM1272 353h1v3h-1zM1274 353h1v3h-1zM1276 353h1v3h-1zM1277 353h1v3h-1zM1279 353h1v3h-1zM1281 353h1v3h-1zM1282 353h1v3h-1zM1284 353h1v3h-1zM1286 353h1v3h-1zM1288 353h1v3h-1zM1289 353h1v3h-1zM1291 353h1v3h-1zM1293 353h1v3h-1zM1294 353h1v3h-1zM1296 353h1v3h-1zM1298 353h1v3h-1zM1300 353h1v3h-1zM1301 353h1v3h-1zM1303 353h1v3h-1zM1305 353h1v3h-1zM1306 353h1v3h-1zM1308 353h1v3h-1zM1310 353h1v3h-1zM1312 353h1v3h-1zM1313 353h1v3h-1zM1315 353h1v3h-1zM1317 353h1v3h-1zM1318 353h1v3h-1zM1320 353h1v3h-1zM1322 353h1v3h-1zM1324 353h1v3h-1zM1325 353h1v3h-1zM1327 353h1v3h-1zM1329 353h1v3h-1zM1330 353h1v3h-1zM1332 353h1v3h-1zM1334 353h1v3h-1zM1336 353h1v3h-1zM1337 353h1v3h-1zM1339 353h1v3h-1zM1341 353h1v3h-1zM1342 353h1v3h-1zM1344 353h1v3h-1zM1346 353h1v3h-1zM1348 353h1v3h-1zM1349 353h1v3h-1zM1351 353h1v3h-1zM1353 353h1v3h-1zM1354 353h1v3h-1zM1356 353h1v3h-1zM1358 353h1v3h-1zM1360 353h1v3h-1zM1361 353h1v3h-1zM1363 353h1v3h-1zM1365 353h1v3h-1zM1366 353h1v3h-1zM1368 353h1v3h-1zM1370 353h1v3h-1zM1372 353h1v3h-1zM1373 353h1v3h-1zM1375 353h1v3h-1zM1377 353h1v3h-1zM1378 353h1v3h-1zM1380 353h1v3h-1zM1382 353h1v3h-1zM1384 353h1v3h-1zM1385 353h1v3h-1zM1387 353h1v3h-1zM1389 353h1v3h-1zM1390 353h1v3h-1zM1392 353h1v3h-1zM1394 353h1v3h-1zM1396 353h1v3h-1zM1397 353h1v3h-1zM1399 353h1v3h-1zM1401 353h1v3h-1zM1402 353h1v3h-1zM1404 353h1v3h-1zM1406 353h1v3h-1zM1408 353h1v3h-1zM1409 353h1v3h-1zM1411 353h1v3h-1zM1413 353h1v3h-1zM1414 353h1v3h-1zM1416 353h1v3h-1zM1418 353h1v3h-1zM1420 353h1v3h-1zM1421 353h1v3h-1zM1423 353h1v3h-1z"/>
</g>
<g id="labels" font-family='"Liberation Sans", sans-serif' shape-rendering="auto" text-rendering="geometricPrecision">
<text x="72" y="19.5" font-size="12" text-anchor="end" fill="#000" textLength="12.5" lengthAdjust="spacingAndGlyphs">10</text>
<text x="72" y="67.5" font-size="12" text-anchor="end" fill="#000" textLength="5.5" lengthAdjust="spacingAndGlyphs">8</text>
<text x="72" y="116.5" font-size="12" text-anchor="end" fill="#000" textLength="5.5" lengthAdjust="spacingAndGlyphs">6</text>
<text x="72" y="164.5" font-size="12" text-anchor="end" fill="#000" textLength="5.5" lengthAdjust="spacingAndGlyphs">4</text>
<text x="71.5" y="208.5" font-size="12" text-anchor="end" fill="#000" textLength="16.5" lengthAdjust="spacingAndGlyphs">1.0</text>
<text x="71.5" y="246.0" font-size="12" text-anchor="end" fill="#000" textLength="16.5" lengthAdjust="spacingAndGlyphs">0.5</text>
<text x="71.5" y="283.5" font-size="12" text-anchor="end" fill="#000" textLength="16.5" lengthAdjust="spacingAndGlyphs">0.0</text>
<text x="71.5" y="321.0" font-size="12" text-anchor="end" fill="#000" textLength="25" lengthAdjust="spacingAndGlyphs">−0.5</text>
<text x="71.5" y="358.5" font-size="12" text-anchor="end" fill="#000" textLength="25" lengthAdjust="spacingAndGlyphs">−1.0</text>
<text x="1429" y="30.6" font-size="12" text-anchor="start" fill="#ff00ff" textLength="20" lengthAdjust="spacingAndGlyphs">600</text>
<text x="1429" y="62.9" font-size="12" text-anchor="start" fill="#ff00ff" textLength="20" lengthAdjust="spacingAndGlyphs">550</text>
<text x="1429" y="93.8" font-size="12" text-anchor="start" fill="#ff00ff" textLength="20" lengthAdjust="spacingAndGlyphs">500</text>
<text x="1429" y="125.4" font-size="12" text-anchor="start" fill="#ff00ff" textLength="20" lengthAdjust="spacingAndGlyphs">450</text>
<text x="1429" y="157.0" font-size="12" text-anchor="start" fill="#ff00ff" textLength="20" lengthAdjust="spacingAndGlyphs">400</text>
<text x="1429" y="188.6" font-size="12" text-anchor="start" fill="#ff00ff" textLength="20" lengthAdjust="spacingAndGlyphs">350</text>
<text x="264.4" y="384.5" font-size="12" text-anchor="middle" fill="#000" textLength="22.5" lengthAdjust="spacingAndGlyphs">0:00</text>
<text x="260.9" y="394" font-size="12" text-anchor="middle" fill="#000" textLength="36.2" lengthAdjust="spacingAndGlyphs">Aug.27</text>
<text x="469.4" y="384.5" font-size="12" text-anchor="middle" fill="#000" textLength="29.6" lengthAdjust="spacingAndGlyphs">12:00</text>
<text x="468.6" y="394" font-size="12" text-anchor="middle" fill="#000" textLength="36.2" lengthAdjust="spacingAndGlyphs">Aug.27</text>
<text x="679.8" y="384.5" font-size="12" text-anchor="middle" fill="#000" textLength="22.5" lengthAdjust="spacingAndGlyphs">0:00</text>
<text x="676.3" y="394" font-size="12" text-anchor="middle" fill="#000" textLength="36.2" lengthAdjust="spacingAndGlyphs">Aug.28</text>
<text x="884.8" y="384.5" font-size="12" text-anchor="middle" fill="#000" textLength="29.6" lengthAdjust="spacingAndGlyphs">12:00</text>
<text x="884.0" y="394" font-size="12" text-anchor="middle" fill="#000" textLength="36.2" lengthAdjust="spacingAndGlyphs">Aug.28</text>
<text x="1095.2" y="384.5" font-size="12" text-anchor="middle" fill="#000" textLength="22.5" lengthAdjust="spacingAndGlyphs">0:00</text>
<text x="1091.7" y="394" font-size="12" text-anchor="middle" fill="#000" textLength="36.2" lengthAdjust="spacingAndGlyphs">Aug.29</text>
<text x="1300.2" y="384.5" font-size="12" text-anchor="middle" fill="#000" textLength="29.6" lengthAdjust="spacingAndGlyphs">12:00</text>
<text x="1299.4" y="394" font-size="12" text-anchor="middle" fill="#000" textLength="36.2" lengthAdjust="spacingAndGlyphs">Aug.29</text>
<text x="749.8" y="405.5" font-size="12" text-anchor="middle" fill="#000" textLength="258.5" lengthAdjust="spacingAndGlyphs">hours:minutes, Aug. 26, 2014 − Aug. 29, 2014</text>
<text x="20" y="99.5" font-size="12" text-anchor="middle" fill="#000" textLength="26" lengthAdjust="spacingAndGlyphs" transform="rotate(-90 20 99.5)">ENLIL</text>
<text x="30" y="99.5" font-size="12" text-anchor="middle" fill="#000" textLength="56" lengthAdjust="spacingAndGlyphs" transform="rotate(-90 30 99.5)">Ion Density</text>
<g transform="rotate(-90 49.5 99.2)">
<text x="31.2" y="99.2" font-size="13" font-weight="bold" text-anchor="start" textLength="4.2" lengthAdjust="spacingAndGlyphs">[</text>
<text x="37" y="99.1" font-size="10.5" text-anchor="start" textLength="14.7" lengthAdjust="spacingAndGlyphs">cm</text>
<text x="53.4" y="94.2" font-size="8" text-anchor="start" textLength="8.9" lengthAdjust="spacingAndGlyphs">−3</text>
<text x="63" y="99.2" font-size="13" text-anchor="start">]</text>
</g>
<text x="18.5" y="279.5" font-size="12" text-anchor="middle" fill="#000" textLength="26" lengthAdjust="spacingAndGlyphs" transform="rotate(-90 18.5 279.5)">ENLIL</text>
<g transform="rotate(-90 27 279.5)">
<text x="0.9" y="279.5" font-size="12" text-anchor="start" textLength="6.5" lengthAdjust="spacingAndGlyphs">B</text>
<text x="7.6" y="282.5" font-size="8" text-anchor="start">r</text>
<text x="15" y="279.5" font-size="12" text-anchor="start" textLength="38.8" lengthAdjust="spacingAndGlyphs">polarity</text>
</g>
<text x="1461" y="99.4" font-size="12" text-anchor="middle" fill="#000" textLength="26" lengthAdjust="spacingAndGlyphs" transform="rotate(-90 1461 99.4)">ENLIL</text>
<text x="1470.5" y="100.4" font-size="12" text-anchor="middle" fill="#000" textLength="40" lengthAdjust="spacingAndGlyphs" transform="rotate(-90 1470.5 100.4)">Velocity</text>
<text x="1480" y="99.6" font-size="12" text-anchor="middle" fill="#000" textLength="36.8" lengthAdjust="spacingAndGlyphs" transform="rotate(-90 1480 99.6)">[km/s]</text>
</g>
</svg>
</body>
</html>
